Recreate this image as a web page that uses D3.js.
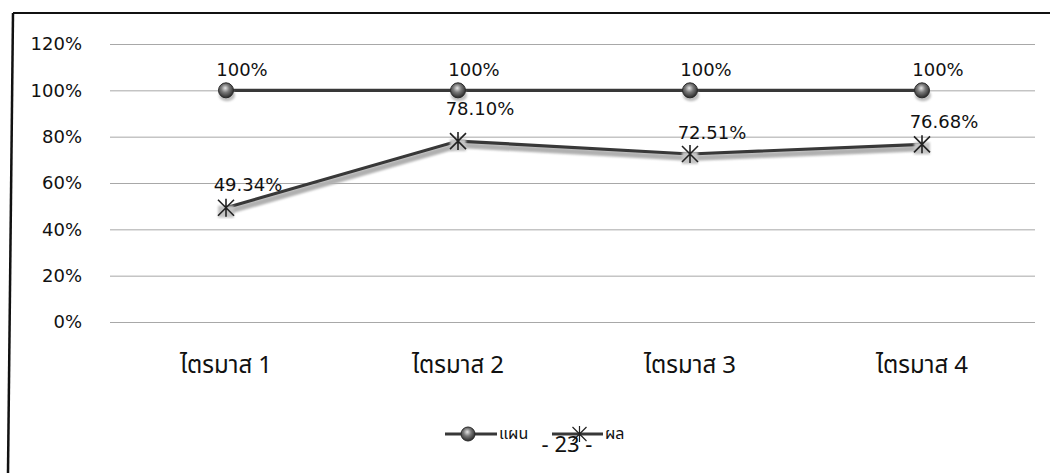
<!DOCTYPE html>
<html>
<head>
<meta charset="utf-8">
<script src="https://cdn.jsdelivr.net/npm/d3@7"></script>
<style>
  html, body { margin: 0; padding: 0; background: #fff; }
  svg { display: block; }
  text { font-family: "DejaVu Sans", "Noto Sans", sans-serif; fill: #111; }
  .thai { font-family: "Noto Sans Thai", "Noto Sans", "DejaVu Sans", sans-serif; }
</style>
</head>
<body>
<svg id="chart" width="1050" height="473"></svg>
<script>
// Quarterly plan vs. result (percent of target)
const categories = ["ไตรมาส 1", "ไตรมาส 2", "ไตรมาส 3", "ไตรมาส 4"];
const planValues = [1.00, 1.00, 1.00, 1.00];
const resultValues = [0.4934, 0.7810, 0.7251, 0.7668];
const seriesNames = ["แผน", "ผล"];
const yTicks = [0, 0.2, 0.4, 0.6, 0.8, 1.0, 1.2];
const pageNumber = "- 23 -";

const svg = d3.select("#chart");

const x = d3.scaleBand().domain(categories).range([110, 1038]).paddingInner(0).paddingOuter(0);
const y = d3.scaleLinear().domain([0, 1.2]).range([322, 44]);
const cx = d => x(d) + x.bandwidth() / 2;

// frame (top and left edges)
svg.append("path")
  .attr("d", `M13,13 L1050,13`)
  .attr("stroke", "#111").attr("stroke-width", 2).attr("fill", "none");
svg.append("path")
  .attr("d", `M13,13 L8,473`)
  .attr("stroke", "#111").attr("stroke-width", 2.5).attr("fill", "none");

const defs = svg.append("defs");
const grad = defs.append("radialGradient").attr("id", "ball")
  .attr("cx", "45%").attr("cy", "40%").attr("r", "60%").attr("fx", "45%").attr("fy", "35%");
grad.append("stop").attr("offset", "0%").attr("stop-color", "#e6e6e6");
grad.append("stop").attr("offset", "45%").attr("stop-color", "#7a7a7a");
grad.append("stop").attr("offset", "100%").attr("stop-color", "#2a2a2a");
defs.append("filter").attr("id", "soft")
  .append("feGaussianBlur").attr("stdDeviation", 1.2);

// y axis with gridlines
const yAxis = d3.axisLeft(y)
  .tickValues(yTicks)
  .tickFormat(d3.format(".0%"))
  .tickSize(-(1035 - 110))
  .tickPadding(28);
const gy = svg.append("g").attr("transform", "translate(110,0)").call(yAxis);
gy.select(".domain").remove();
gy.selectAll(".tick line").attr("stroke", "#a8a8a8").attr("stroke-width", 1);
gy.selectAll(".tick text").attr("font-size", 18).attr("fill", "#111");

// x axis labels
const xAxis = d3.axisBottom(x).tickSize(0).tickPadding(34);
const gx = svg.append("g").attr("transform", "translate(0,322)").call(xAxis);
gx.select(".domain").remove();
gx.selectAll(".tick text").attr("class", "thai").attr("font-size", 24).attr("fill", "#111");

const line = d3.line().x((d, i) => cx(categories[i])).y(d => y(d));

function drawSeries(values, kind) {
  // soft drop shadow beneath the line
  svg.append("path").datum(values)
    .attr("d", line).attr("transform", "translate(1,4)")
    .attr("fill", "none").attr("stroke", "#b0b0b0").attr("stroke-width", 6)
    .attr("filter", "url(#soft)");
  svg.append("path").datum(values)
    .attr("d", line)
    .attr("fill", "none").attr("stroke", "#383838").attr("stroke-width", 3.2);
  const g = svg.append("g");
  values.forEach((v, i) => {
    drawMarker(g, kind, cx(categories[i]), y(v), true);
  });
}

function drawMarker(g, kind, px, py, shadow) {
  if (kind === "ball") {
    if (shadow) g.append("ellipse").attr("cx", px + 1).attr("cy", py + 5).attr("rx", 8).attr("ry", 6)
      .attr("fill", "#bdbdbd").attr("filter", "url(#soft)");
    g.append("circle").attr("cx", px).attr("cy", py).attr("r", 7.5)
      .attr("fill", "url(#ball)").attr("stroke", "#2a2a2a").attr("stroke-width", 1);
  } else {
    const s = 8;
    if (shadow) g.append("rect").attr("x", px - 8).attr("y", py - 2).attr("width", 16).attr("height", 12)
      .attr("fill", "#c4c4c4").attr("filter", "url(#soft)");
    const d = `M${px - s},${py - s}L${px + s},${py + s}M${px - s},${py + s}L${px + s},${py - s}M${px},${py - s - 1}L${px},${py + s + 1}`;
    g.append("path").attr("d", d).attr("stroke", "#222").attr("stroke-width", 1.6).attr("fill", "none");
  }
}

drawSeries(planValues, "ball");
drawSeries(resultValues, "star");

// data labels
const fmtPlan = d3.format(".0%");
const fmtResult = d3.format(".2%");
svg.append("g").selectAll("text").data(planValues).join("text")
  .attr("x", (d, i) => cx(categories[i]) + 16)
  .attr("y", d => y(d) - 14)
  .attr("text-anchor", "middle").attr("font-size", 18)
  .text(d => fmtPlan(d));
const resultLift = [17, 26, 15, 16];
svg.append("g").selectAll("text").data(resultValues).join("text")
  .attr("x", (d, i) => cx(categories[i]) + 22)
  .attr("y", (d, i) => y(d) - resultLift[i])
  .attr("text-anchor", "middle").attr("font-size", 18)
  .text(d => fmtResult(d));

// legend
const lg = svg.append("g");
const legendY = 434;
[["ball", 445, 497], ["star", 552, 603]].forEach(([kind, x0, x1], i) => {
  lg.append("line").attr("x1", x0).attr("x2", x1).attr("y1", legendY).attr("y2", legendY)
    .attr("stroke", "#383838").attr("stroke-width", 3);
  if (kind === "ball") {
    lg.append("circle").attr("cx", (x0 + x1) / 2 - 3).attr("cy", legendY).attr("r", 7)
      .attr("fill", "url(#ball)").attr("stroke", "#2a2a2a").attr("stroke-width", 1);
  } else {
    const px = (x0 + x1) / 2 + 2, py = legendY, s = 7;
    lg.append("path").attr("d", `M${px - s},${py - s}L${px + s},${py + s}M${px - s},${py + s}L${px + s},${py - s}M${px},${py - s - 1}L${px},${py + s + 1}`)
      .attr("stroke", "#222").attr("stroke-width", 1.2).attr("fill", "none");
  }
  lg.append("text").attr("class", "thai").attr("x", x1 + 2).attr("y", legendY + 5)
    .attr("font-size", 16).text(seriesNames[i]);
});

// page number printed across the legend
svg.append("text").attr("class", "thai").attr("x", 567).attr("y", 452)
  .attr("text-anchor", "middle").attr("font-size", 22).text(pageNumber);
</script>
</body>
</html>
